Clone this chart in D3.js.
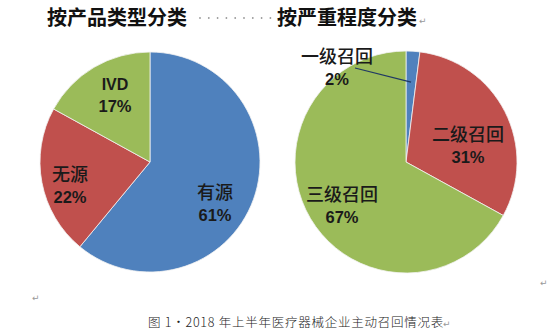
<!DOCTYPE html>
<html>
<head>
<meta charset="utf-8">
<script src="https://cdn.jsdelivr.net/npm/d3@7"></script>
<style>
  html, body { margin: 0; padding: 0; background: #fff; }
  svg { display: block; }
</style>
</head>
<body>
<svg id="chart" width="557" height="331"></svg>
<script>
// Recall share by product type
const typeNames = ["有源", "无源", "IVD"];
const typeValues = [61, 22, 17];

// Recall share by severity class
const levelNames = ["一级召回", "二级召回", "三级召回"];
const levelValues = [2, 31, 67];

const sliceColors = ["#4F81BD", "#C0504D", "#9BBB59"];

const titles = ["按产品类型分类", "按严重程度分类"];
const caption = "图 1·2018 年上半年医疗器械企业主动召回情况表";

const svg = d3.select("#chart");
const cjk = "'Noto Sans CJK SC', 'Noto Sans', sans-serif";
const latin = "'Liberation Sans', Arial, sans-serif";

// headings
svg.append("text").attr("x", 47).attr("y", 25)
  .attr("font-family", cjk).attr("font-size", 20).attr("font-weight", 700)
  .attr("fill", "#111").text(titles[0]);
svg.append("text").attr("x", 277).attr("y", 25)
  .attr("font-family", cjk).attr("font-size", 20).attr("font-weight", 700)
  .attr("fill", "#111").text(titles[1]);

// dotted leader between the headings
const dotX = d3.range(9).map(i => 200 + i * 8.8);
svg.append("g").selectAll("circle").data(dotX).join("circle")
  .attr("cx", d => d).attr("cy", 18).attr("r", 0.9).attr("fill", "#999");

// paragraph marks
function mark(x, y) {
  svg.append("text").attr("x", x).attr("y", y)
    .attr("font-family", "'DejaVu Sans', sans-serif").attr("font-size", 9)
    .attr("fill", "#999").text("↵");
}
mark(419, 24);
mark(32, 301);
mark(540, 286);

const pie = d3.pie().sort(null).value(d => d);

function drawPie(cx, cy, r, values) {
  const arc = d3.arc().innerRadius(0).outerRadius(r);
  const g = svg.append("g").attr("transform", `translate(${cx},${cy})`);
  const arcs = pie(values);
  g.selectAll("path").data(arcs).join("path")
    .attr("d", arc)
    .attr("fill", (d, i) => sliceColors[i])
    .attr("stroke", "#f2f2f2").attr("stroke-width", 0.8);
  return { g, arcs, arc };
}

function label(g, x, y, name, value, nameFont) {
  const isLatin = nameFont === latin;
  g.append("text").attr("x", x).attr("y", y).attr("text-anchor", "middle")
    .attr("font-family", nameFont).attr("font-size", isLatin ? 16 : 18)
    .attr("font-weight", isLatin ? 700 : 500)
    .attr("fill", "#1a1a1a").text(name);
  g.append("text").attr("x", x).attr("y", y + 22).attr("text-anchor", "middle")
    .attr("font-family", latin).attr("font-size", 16.5).attr("font-weight", 700)
    .attr("fill", "#1a1a1a").text(value + "%");
}

// left: product type
const left = drawPie(150, 162, 110, typeValues);
const leftPos = [[65, 37], [-80, 19], [-35, -72]];
typeNames.forEach((n, i) => {
  label(left.g, leftPos[i][0], leftPos[i][1], n, typeValues[i], n === "IVD" ? latin : cjk);
});

// right: severity class
const right = drawPie(406, 162, 111, levelValues);
const rightPos = [[-69, -99], [62, -21], [-64, 39]];
levelNames.forEach((n, i) => {
  label(right.g, rightPos[i][0], rightPos[i][1], n, levelValues[i], cjk);
});

// leader line for the small slice
const a0 = right.arcs[0];
const mid = (a0.startAngle + a0.endAngle) / 2;
const tip = [Math.sin(mid) * 80, -Math.cos(mid) * 80];
right.g.append("line")
  .attr("x1", -51).attr("y1", -94)
  .attr("x2", tip[0]).attr("y2", tip[1])
  .attr("stroke", "#1F3864").attr("stroke-width", 1.2);

// caption
svg.append("text").attr("x", 148).attr("y", 327)
  .attr("font-family", cjk).attr("font-size", 12.5).attr("font-weight", 300)
  .attr("letter-spacing", 0.75)
  .attr("fill", "#222").text(caption);
mark(443, 327);
</script>
</body>
</html>
